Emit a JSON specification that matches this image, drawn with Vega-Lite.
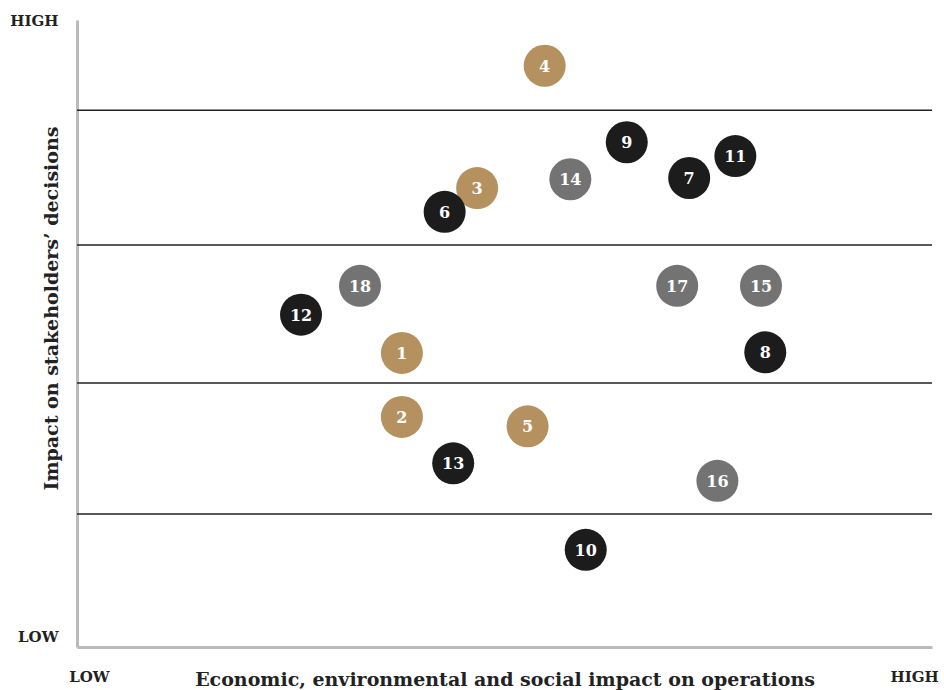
{
  "$schema": "https://vega.github.io/schema/vega-lite/v6.json",
  "width": 855,
  "height": 627,
  "autosize": "none",
  "padding": {"left": 77, "top": 20, "right": 12, "bottom": 43},
  "background": "white",
  "config": {"view": {"stroke": null}, "font": "DejaVu Serif"},
  "datasets": {
    "points": [
      {"id": "4", "x": 54.7, "y": 92.7, "group": "gold"},
      {"id": "9", "x": 64.3, "y": 80.5, "group": "black"},
      {"id": "11", "x": 77.0, "y": 78.3, "group": "black"},
      {"id": "14", "x": 57.7, "y": 74.6, "group": "gray"},
      {"id": "7", "x": 71.6, "y": 74.8, "group": "black"},
      {"id": "3", "x": 46.8, "y": 73.2, "group": "gold"},
      {"id": "6", "x": 43.0, "y": 69.4, "group": "black"},
      {"id": "18", "x": 33.1, "y": 57.6, "group": "gray"},
      {"id": "17", "x": 70.2, "y": 57.6, "group": "gray"},
      {"id": "15", "x": 80.0, "y": 57.6, "group": "gray"},
      {"id": "12", "x": 26.2, "y": 53.0, "group": "black"},
      {"id": "1", "x": 38.0, "y": 46.9, "group": "gold"},
      {"id": "8", "x": 80.5, "y": 47.0, "group": "black"},
      {"id": "2", "x": 38.0, "y": 36.7, "group": "gold"},
      {"id": "5", "x": 52.7, "y": 35.2, "group": "gold"},
      {"id": "13", "x": 44.0, "y": 29.3, "group": "black"},
      {"id": "16", "x": 74.9, "y": 26.5, "group": "gray"},
      {"id": "10", "x": 59.5, "y": 15.5, "group": "black"}
    ],
    "grid": [
      {"level": 21.2},
      {"level": 42.1},
      {"level": 64.1},
      {"level": 85.6}
    ]
  },
  "layer": [
    {
      "data": {"name": "grid"},
      "mark": {"type": "rule", "color": "#222222", "strokeWidth": 1.5},
      "encoding": {
        "y": {
          "field": "level", "type": "quantitative",
          "scale": {"domain": [0, 100], "nice": false, "zero": false},
          "axis": {
            "title": "Impact on stakeholders’ decisions",
            "values": [1.6, 100],
            "labelExpr": "datum.value < 50 ? 'LOW' : 'HIGH'",
            "grid": false, "ticks": false, "tickSize": 0,
            "domainColor": "#bbbbbb", "domainWidth": 3,
            "labelFont": "DejaVu Serif", "labelFontWeight": "bold", "labelFontSize": 15, "labelColor": "#222222",
            "labelPadding": 19, "labelFlush": false, "labelOverlap": false, "labelBaseline": "middle",
            "titleFont": "DejaVu Serif", "titleFontWeight": "bold", "titleFontSize": 19, "titleColor": "#222222",
            "titleAngle": -90, "titleBaseline": "middle", "titleX": -26, "titleY": 288, "titleAnchor": "middle", "titleAlign": "center"
          }
        }
      }
    },
    {
      "data": {"name": "points"},
      "mark": {"type": "circle", "size": 1764, "opacity": 1},
      "encoding": {
        "x": {
          "field": "x", "type": "quantitative",
          "scale": {"domain": [0, 100], "nice": false, "zero": false},
          "axis": {
            "title": "Economic, environmental and social impact on operations",
            "values": [1.4, 97.9],
            "labelExpr": "datum.value < 50 ? 'LOW' : 'HIGH'",
            "grid": false, "ticks": false, "tickSize": 0,
            "domainColor": "#bbbbbb", "domainWidth": 3,
            "labelFont": "DejaVu Serif", "labelFontWeight": "bold", "labelFontSize": 15, "labelColor": "#222222",
            "labelBaseline": "alphabetic", "labelPadding": 34, "labelFlush": false, "labelOverlap": false,
            "titleFont": "DejaVu Serif", "titleFontWeight": "bold", "titleFontSize": 19, "titleColor": "#222222",
            "titleBaseline": "alphabetic", "titleY": 38, "titleX": 427.5, "titleAnchor": "middle"
          }
        },
        "y": {
          "field": "y", "type": "quantitative",
          "scale": {"domain": [0, 100], "nice": false, "zero": false},
          "axis": {
            "title": "Impact on stakeholders’ decisions",
            "values": [1.6, 100],
            "labelExpr": "datum.value < 50 ? 'LOW' : 'HIGH'",
            "grid": false, "ticks": false, "tickSize": 0,
            "domainColor": "#bbbbbb", "domainWidth": 3,
            "labelFont": "DejaVu Serif", "labelFontWeight": "bold", "labelFontSize": 15, "labelColor": "#222222",
            "labelPadding": 19, "labelFlush": false, "labelOverlap": false, "labelBaseline": "middle",
            "titleFont": "DejaVu Serif", "titleFontWeight": "bold", "titleFontSize": 19, "titleColor": "#222222",
            "titleAngle": -90, "titleBaseline": "middle", "titleX": -26, "titleY": 288, "titleAnchor": "middle", "titleAlign": "center"
          }
        },
        "color": {
          "field": "group", "type": "nominal",
          "scale": {"domain": ["gold", "gray", "black"], "range": ["#b4915f", "#737373", "#1c1c1c"]},
          "legend": null
        }
      }
    },
    {
      "data": {"name": "points"},
      "mark": {"type": "text", "color": "white", "font": "DejaVu Serif", "fontWeight": "bold", "fontSize": 16, "baseline": "middle", "align": "center", "dy": 1},
      "encoding": {
        "x": {"field": "x", "type": "quantitative"},
        "y": {"field": "y", "type": "quantitative"},
        "text": {"field": "id", "type": "nominal"}
      }
    }
  ]
}
